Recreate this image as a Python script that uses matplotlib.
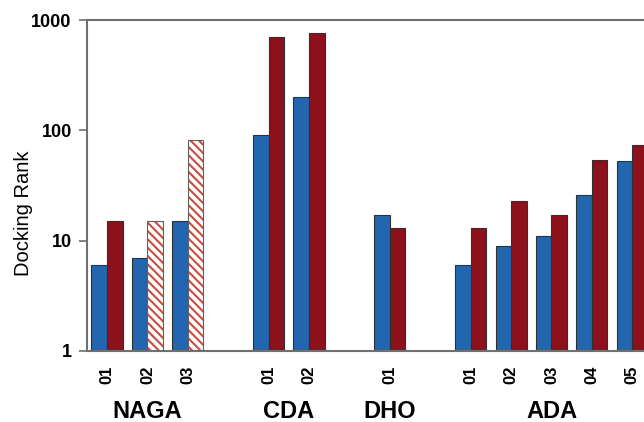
import numpy as np
import matplotlib.pyplot as plt
from matplotlib.transforms import blended_transform_factory

plt.rcParams['font.family'] = ['Liberation Sans', 'DejaVu Sans']
plt.rcParams['hatch.linewidth'] = 1.5

# data
groups = ['NAGA', 'CDA', 'DHO', 'ADA']
group_sizes = [3, 2, 1, 5]
labels = ['01', '02', '03', '01', '02', '01', '01', '02', '03', '04', '05']
blue_vals = [6, 7, 15, 91, 200, 17, 6, 9, 11, 26, 53]
red_vals = [15, 15, 82, 700, 770, 13, 13, 23, 17, 54, 74]
red_hatched = [False, True, True, False, False, False, False, False, False, False, False]

blue = '#2266b0'
red = '#8c111b'
hatch_red = '#cc4a42'
spine_col = '#707070'

# slot positions, one empty slot between groups
pos = []
group_centres = []
start = 0
for size in group_sizes:
    slots = list(range(start, start + size))
    pos += slots
    group_centres.append(np.mean(slots))
    start += size + 1
pos = np.array(pos, dtype=float)

fig = plt.figure(figsize=(6.44, 4.22), dpi=100)
ax = fig.add_axes([87 / 644, 71.3 / 422, (644 - 87) / 644, 330.4 / 422])

w = 0.385
ax.bar(pos - w / 2, blue_vals, w, color=blue, edgecolor='#303030', linewidth=0.8, zorder=2)
for x, v, h in zip(pos, red_vals, red_hatched):
    if h:
        ax.bar(x + w / 2, v, w, color='white', edgecolor=hatch_red, hatch='\\\\\\\\',
               linewidth=0, zorder=2)
        ax.bar(x + w / 2, v, w, fill=False, edgecolor='#606060', linewidth=0.8, zorder=3)
    else:
        ax.bar(x + w / 2, v, w, color=red, edgecolor='#303030', linewidth=0.8, zorder=2)

ax.set_yscale('log')
ax.set_ylim(1, 1000)
ax.set_xlim(-0.495, 13.29)
ax.set_yticks([1, 10, 100, 1000])
ax.set_yticklabels(['1', '10', '100', '1000'], fontsize=13, fontweight='bold')
ax.minorticks_off()
ax.tick_params(axis='y', length=6, width=1.2, color=spine_col, pad=5)
ax.set_xticks(pos)
ax.set_xticklabels(labels, rotation=90, fontsize=12, fontweight='bold')
ax.tick_params(axis='x', length=0, pad=10.5)
ax.set_ylabel('Docking Rank', fontsize=14.5)
ax.yaxis.set_label_coords(-54 / 557, 0.417)

for s in ['left', 'top', 'bottom']:
    ax.spines[s].set_color(spine_col)
    ax.spines[s].set_linewidth(1.5)
ax.spines['right'].set_visible(False)

trans = blended_transform_factory(ax.transData, ax.transAxes)
for name, c in zip(groups, group_centres):
    ax.text(c, -0.183, name, transform=trans, ha='center', va='center',
            fontsize=17, fontweight='bold')

fig.savefig('out.png', dpi=100)
